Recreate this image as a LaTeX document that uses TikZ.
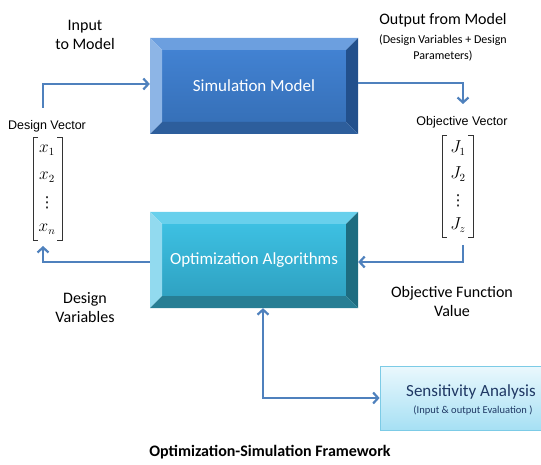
\documentclass[tikz,border=0pt]{standalone}
\usepackage{fontspec}
\setmainfont{Carlito}
\newfontfamily\arialf{Liberation Sans}
\newfontfamily\djv{DejaVu Sans}
\usetikzlibrary{arrows.meta,calc}
\definecolor{arrc}{HTML}{4F81BD}
\definecolor{simface}{HTML}{4282D2}
\definecolor{simfaceb}{HTML}{3670B8}
\definecolor{simtop}{HTML}{6C9FDF}
\definecolor{simleft}{HTML}{8DB5E6}
\definecolor{simright}{HTML}{22508C}
\definecolor{simbot}{HTML}{2D5E9C}
\definecolor{optface}{HTML}{3DC0E2}
\definecolor{optfaceb}{HTML}{2FA2C2}
\definecolor{opttop}{HTML}{68D0EC}
\definecolor{optleft}{HTML}{92DAEF}
\definecolor{optright}{HTML}{1D6C80}
\definecolor{optbot}{HTML}{277E94}
\definecolor{senstop}{HTML}{EAF8FD}
\definecolor{sensbot}{HTML}{A6E0F4}
\definecolor{sensedge}{HTML}{7CCBE6}
\definecolor{navy}{HTML}{1F3864}
\tikzset{
  arr/.style={draw=arrc, line width=2.6pt, -{Straight Barb[length=5pt,width=11pt,line width=2.2pt]}},
  arrb/.style={draw=arrc, line width=2.6pt, {Straight Barb[length=5pt,width=11pt,line width=2.2pt]}-{Straight Barb[length=5pt,width=11pt,line width=2.2pt]}},
  lbl/.style={font=\fontsize{16}{19}\selectfont, align=center, inner sep=0pt},
  boxtxt/.style={font=\fontsize{17}{20}\selectfont, text=white, inner sep=0pt},
  vlbl/.style={font=\arialf\fontsize{12.5}{14}\selectfont, inner sep=0pt},
  ent/.style={font=\fontsize{16}{16}\selectfont, inner sep=0pt, text height=7pt, text depth=2pt},
  dts/.style={font=\djv\fontsize{15}{15}\selectfont, inner sep=0pt},
  brk/.style={draw=black!80, line width=0.8pt},
}
\begin{document}
\begin{tikzpicture}[x=1pt,y=-1pt]
\useasboundingbox (0,0) rectangle (541,465);
% ---- Simulation Model bevel box
\shade[top color=simface, bottom color=simfaceb] (162,50) rectangle (346,122);
\fill[simtop] (150,38) -- (358,38) -- (346,50) -- (162,50) -- cycle;
\fill[simleft] (150,38) -- (162,50) -- (162,122) -- (150,134) -- cycle;
\fill[simright] (358,38) -- (358,134) -- (346,122) -- (346,50) -- cycle;
\fill[simbot] (150,134) -- (358,134) -- (346,122) -- (162,122) -- cycle;
\node[boxtxt, minimum width=208pt, minimum height=96pt] (sim) at (254,86) {Simulation Model};
% ---- Optimization bevel box
\shade[top color=optface, bottom color=optfaceb] (162,224) rectangle (346,296);
\fill[opttop] (150,212) -- (358,212) -- (346,224) -- (162,224) -- cycle;
\fill[optleft] (150,212) -- (162,224) -- (162,296) -- (150,308) -- cycle;
\fill[optright] (358,212) -- (358,308) -- (346,296) -- (346,224) -- cycle;
\fill[optbot] (150,308) -- (358,308) -- (346,296) -- (162,296) -- cycle;
\node[boxtxt, minimum width=208pt, minimum height=96pt] (opt) at (254,260) {Optimization Algorithms};
% ---- Sensitivity box
\node[draw=sensedge, line width=0.8pt, top color=senstop, bottom color=sensbot, minimum width=168pt, minimum height=64pt, inner sep=0pt] (sens) at (464,398) {};
\node[font=\fontsize{17}{18}\selectfont, text=navy, inner sep=0pt] (senst) at (471,392) {Sensitivity Analysis};
\node[font=\fontsize{10.5}{12}\selectfont, text=navy, inner sep=0pt] (sensst) at (473,411) {(Input \& output Evaluation )};
% ---- labels
\node[lbl] (inlbl) at (85,35) {Input\\to Model};
\node[lbl] (outlbl) at (443,20) {Output from Model};
\node[font=\fontsize{12}{16}\selectfont, align=center, inner sep=0pt] (outsub) at (443,48) {(Design Variables + Design\\Parameters)};
\node[lbl] (dvlbl) at (85,308) {Design\\Variables};
\node[lbl] (oflbl) at (452,302) {Objective Function\\Value};
\node[font=\bfseries\fontsize{16}{18}\selectfont, inner sep=0pt] (title) at (270,452) {Optimization-Simulation Framework};
% ---- design vector
\node[vlbl] (dv) at (47,126) {Design Vector};
\draw[brk] (38,137) -- (33,137) -- (33,240) -- (38,240);
\draw[brk] (57,137) -- (62,137) -- (62,240) -- (57,240);
\node[ent] (x1) at (47,150) {$x_1$};
\node[ent] (x2) at (47,177) {$x_2$};
\node[dts] (xd) at (47,203) {⋮};
\node[ent] (xn) at (47,229) {$x_n$};
% ---- objective vector
\node[vlbl] (ov) at (462,122) {Objective Vector};
\draw[brk] (447,135) -- (442,135) -- (442,237) -- (447,237);
\draw[brk] (468,135) -- (473,135) -- (473,237) -- (468,237);
\node[ent] (j1) at (458,150) {$J_1$};
\node[ent] (j2) at (458,176) {$J_2$};
\node[dts] (jd) at (458,201) {⋮};
\node[ent] (jz) at (458,227) {$J_z$};
% ---- connectors
\coordinate (dvtop) at (43,108);
\coordinate (jtop) at (463,104);
\coordinate (jbot) at (463,245);
\coordinate (xbot) at (43,246);
\draw[arr] (dvtop) |- ([yshift=2pt]sim.west);
\draw[arr] ([yshift=3pt]sim.east) -| (jtop);
\draw[arr] (jbot) |- ([yshift=-2pt]opt.east);
\draw[arr] ([yshift=-2pt]opt.west) -| (xbot);
\draw[arrb] ([xshift=9pt]opt.south) |- (sens.west);
\end{tikzpicture}
\end{document}
